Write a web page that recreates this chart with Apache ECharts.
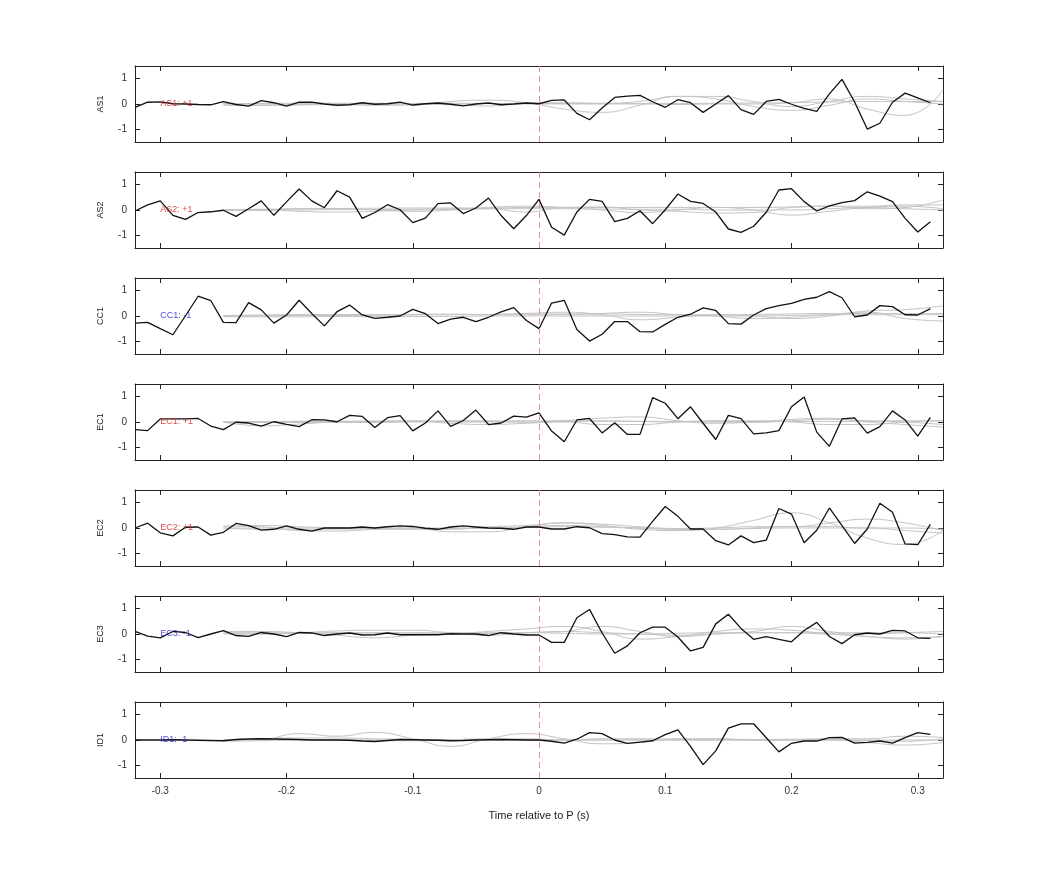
<!DOCTYPE html>
<html><head><meta charset="utf-8">
<script src="https://cdn.jsdelivr.net/npm/echarts@6/dist/echarts.min.js"></script>
<style>html,body{margin:0;padding:0;background:#fff}#c{width:1042px;height:875px}</style>
</head><body><div id="c"></div>
<script>
const channels = ['AS1','AS2','CC1','EC1','EC2','EC3','ID1'];
const labels = ['AS1: +1','AS2: +1','CC1: -1','EC1: +1','EC2: +1','EC3: -1','ID1: -1'];
const labelColors = ['#d42020','#d42020','#2020d0','#d42020','#d42020','#2020d0','#2020d0'];
const xTicks = [-0.3,-0.2,-0.1,0,0.1,0.2,0.3];
const yTicks = [-1,0,1];
// black trace sample times: -0.32 .. 0.31 step 0.01
const times = [-0.32,-0.31,-0.30,-0.29,-0.28,-0.27,-0.26,-0.25,-0.24,-0.23,-0.22,-0.21,-0.20,-0.19,-0.18,-0.17,-0.16,-0.15,-0.14,-0.13,-0.12,-0.11,-0.10,-0.09,-0.08,-0.07,-0.06,-0.05,-0.04,-0.03,-0.02,-0.01,0.00,0.01,0.02,0.03,0.04,0.05,0.06,0.07,0.08,0.09,0.10,0.11,0.12,0.13,0.14,0.15,0.16,0.17,0.18,0.19,0.20,0.21,0.22,0.23,0.24,0.25,0.26,0.27,0.28,0.29,0.30,0.31];
const AS1 = [-0.13,0.07,0.08,0.01,0,-0.02,-0.03,0.09,-0.02,-0.08,0.13,0.05,-0.08,0.07,0.07,0,-0.05,-0.03,0.05,-0.01,0.01,0.07,-0.04,0.01,0.04,-0.01,-0.07,0,0.04,-0.03,0,0.04,0.01,
 0.14,0.16,-0.37,-0.62,-0.16,0.26,0.31,0.34,0.09,-0.13,0.17,0.05,-0.33,0,0.33,-0.22,-0.41,0.1,0.18,-0.01,-0.17,-0.29,0.4,0.97,0.08,-0.99,-0.76,0.07,0.43,0.24,0.05];
const AS2 = [-0.04,0.2,0.36,-0.21,-0.37,-0.1,-0.07,-0.01,-0.25,0.05,0.36,-0.21,0.32,0.83,0.36,0.09,0.76,0.51,-0.33,-0.1,0.21,0.01,-0.5,-0.32,0.25,0.28,-0.14,0.08,0.47,-0.22,-0.74,-0.22,0.42,
 -0.68,-0.99,-0.08,0.42,0.34,-0.46,-0.33,-0.03,-0.54,0.01,0.63,0.34,0.26,-0.08,-0.75,-0.88,-0.64,-0.09,0.79,0.84,0.33,-0.04,0.16,0.29,0.37,0.72,0.55,0.33,-0.33,-0.87,-0.46];
const CC1 = [-0.28,-0.25,-0.5,-0.74,0.01,0.78,0.61,-0.25,-0.26,0.53,0.24,-0.28,0.04,0.62,0.1,-0.39,0.17,0.43,0.04,-0.09,-0.05,0,0.26,0.09,-0.3,-0.12,-0.05,-0.22,-0.05,0.16,0.33,-0.18,-0.5,
 0.51,0.62,-0.53,-0.99,-0.72,-0.22,-0.22,-0.62,-0.63,-0.33,-0.05,0.07,0.32,0.22,-0.3,-0.32,0.04,0.29,0.41,0.5,0.66,0.74,0.96,0.72,-0.03,0.04,0.41,0.37,0.05,0.04,0.29];
const EC1 = [-0.3,-0.34,0.12,0.12,0.12,0.14,-0.16,-0.3,-0.01,-0.04,-0.16,0.01,-0.09,-0.18,0.09,0.08,0.01,0.26,0.22,-0.22,0.17,0.25,-0.35,-0.04,0.44,-0.17,0.06,0.47,-0.1,-0.04,0.23,0.19,0.36,
 -0.36,-0.78,0.08,0.14,-0.43,-0.03,-0.49,-0.49,0.96,0.74,0.13,0.6,-0.05,-0.69,0.26,0.13,-0.47,-0.43,-0.34,0.6,0.99,-0.4,-0.96,0.12,0.16,-0.44,-0.18,0.44,0.08,-0.56,0.18];
const EC2 = [0,0.19,-0.19,-0.31,0.03,0.04,-0.28,-0.17,0.18,0.09,-0.08,-0.05,0.08,-0.05,-0.12,0,0,0,0.04,0,0.05,0.08,0.06,-0.01,-0.05,0.04,0.08,0.04,0,-0.01,-0.05,0.04,0.04,
 -0.04,-0.04,0.05,0.01,-0.22,-0.26,-0.35,-0.36,0.26,0.85,0.46,-0.04,-0.04,-0.5,-0.67,-0.31,-0.58,-0.48,0.77,0.55,-0.58,-0.09,0.79,0.09,-0.61,-0.04,0.98,0.62,-0.63,-0.66,0.14];
const EC3 = [0.1,-0.08,-0.15,0.1,0.06,-0.14,0,0.13,-0.06,-0.09,0.06,0,-0.1,0.06,0.04,-0.06,0,0.04,-0.04,-0.03,0.04,-0.03,-0.03,-0.03,-0.03,0.01,0,0,-0.06,0.05,0,-0.04,-0.04,
 -0.33,-0.33,0.64,0.97,0.04,-0.76,-0.47,0.05,0.27,0.27,-0.12,-0.67,-0.53,0.4,0.78,0.22,-0.21,-0.1,-0.21,-0.31,0.14,0.46,-0.1,-0.38,-0.03,0.04,0,0.14,0.12,-0.15,-0.17];
const ID1 = [0,0,0,0.01,0,-0.01,-0.02,-0.03,0.02,0.04,0.05,0.04,0.03,0.02,0,0,0,-0.01,-0.04,-0.06,-0.02,0.02,0.01,0,-0.01,-0.03,-0.02,0,0.01,0.02,0.01,0,0,
 -0.05,-0.12,0.03,0.29,0.25,0,-0.13,-0.08,-0.03,0.21,0.4,-0.25,-0.97,-0.43,0.47,0.64,0.64,0.09,-0.47,-0.13,-0.04,-0.04,0.09,0.1,-0.12,-0.09,-0.04,-0.12,0.09,0.29,0.22];
const traces = [AS1,AS2,CC1,EC1,EC2,EC3,ID1];
// gray reference traces (smooth), sampled coarsely
const grayT = [-0.25,-0.22,-0.19,-0.16,-0.13,-0.10,-0.07,-0.04,-0.01,0.02,0.05,0.08,0.11,0.14,0.17,0.20,0.23,0.26,0.29,0.32];
const grayAS1 = [
 [-0.05,-0.06,-0.04,-0.02,-0.05,-0.04,0.1,0.15,0.05,-0.2,-0.33,-0.05,0.3,0.2,-0.1,-0.25,-0.05,0.2,0.1,0.0],
 [0.0,0.02,0.0,0.01,0.03,0.0,-0.03,-0.08,0.05,0.05,0.03,0.1,0.3,0.3,0.1,-0.1,0.1,0.3,0.2,0.1],
 [-0.03,-0.03,-0.02,-0.02,-0.03,0.0,0.0,0.02,0.0,0.0,0.0,0.0,-0.02,0.0,0.0,0.05,0.2,-0.2,-0.45,0.55],
 [0.02,0.02,0.03,0.03,0.02,0.02,0.03,0.02,0.02,0.02,0.02,0.02,0.02,0.03,0.04,0.05,0.08,0.1,0.1,0.1]];
const grayAS2 = [
 [0.0,0.02,-0.05,-0.08,-0.05,0.0,0.02,0.05,-0.08,0.1,0.12,0.0,-0.05,-0.12,-0.1,0.1,0.15,0.05,0.1,0.4],
 [0.0,-0.02,0.05,0.05,0.0,-0.05,0.0,0.1,0.15,0.1,0.0,-0.1,0.0,0.1,0.0,-0.2,-0.05,0.1,0.15,0.05],
 [0.0,0.0,0.0,0.02,0.02,0.03,0.05,0.05,0.05,0.05,0.04,0.03,0.03,0.0,0.0,0.0,0.05,0.1,0.05,0.0],
 [0.02,0.03,0.05,0.06,0.07,0.08,0.08,0.08,0.1,0.1,0.1,0.1,0.1,0.1,0.1,0.12,0.15,0.15,0.2,0.2]];
const grayCC1 = [
 [0.0,0.0,0.02,0.04,0.05,0.06,0.07,0.06,0.1,0.15,0.05,-0.15,-0.05,0.05,0.0,-0.1,0.0,0.2,0.25,0.4],
 [0.0,0.0,0.02,0.02,0.03,0.05,0.05,0.05,0.05,0.05,0.1,0.15,0.05,0.0,-0.1,-0.05,0.05,0.15,-0.1,-0.2],
 [-0.03,-0.03,-0.03,-0.02,-0.03,-0.02,-0.02,0.0,0.0,0.0,0.0,0.0,0.0,0.0,0.0,0.02,0.05,0.05,0.05,0.05],
 [0.02,0.04,0.06,0.06,0.05,0.05,0.06,0.06,0.08,0.08,0.08,0.06,0.05,0.05,0.06,0.08,0.1,0.1,0.1,0.1]];
const grayEC1 = [
 [0.0,-0.15,-0.08,0.0,0.02,0.03,0.05,0.05,0.0,0.05,0.15,0.2,0.05,-0.05,0.0,0.1,0.15,0.0,-0.1,-0.2],
 [0.0,0.0,0.02,0.03,0.04,0.05,-0.05,-0.1,-0.05,0.0,-0.1,-0.1,0.0,0.05,0.05,0.0,-0.1,-0.1,0.0,0.05],
 [0.02,0.02,0.03,0.02,0.02,0.02,0.02,0.0,0.0,0.02,0.03,0.03,0.02,0.02,0.02,0.02,0.02,0.03,0.05,0.05],
 [-0.02,-0.02,-0.02,-0.02,-0.02,0.0,0.0,0.02,0.05,0.05,0.05,0.02,0.0,0.0,-0.02,0.05,0.1,0.05,0.0,-0.1]];
const grayEC2 = [
 [0.08,0.05,-0.1,-0.12,-0.05,0.0,-0.15,-0.15,0.05,0.2,0.1,-0.05,-0.1,0.0,0.3,0.6,0.2,-0.4,-0.65,-0.1],
 [0.05,0.1,0.05,0.0,-0.03,-0.05,-0.05,0.05,0.1,0.2,0.15,0.05,-0.02,0.0,0.05,0.05,0.2,0.35,0.2,-0.1],
 [0.0,-0.05,-0.05,-0.04,-0.04,-0.03,-0.02,-0.01,0.05,0.1,0.05,0.0,-0.05,-0.05,-0.02,0.0,0.0,0.0,-0.1,-0.2],
 [0.0,0.0,0.0,0.0,0.0,0.0,0.0,0.0,0.02,0.05,0.03,0.0,-0.05,-0.05,0.0,0.05,0.05,0.0,0.0,-0.05]];
const grayEC3 = [
 [0.1,0.1,0.05,-0.05,-0.15,-0.05,0.0,0.1,0.2,0.3,0.1,-0.2,-0.1,0.1,0.2,0.15,0.0,-0.1,-0.2,-0.1],
 [0.05,0.0,0.05,0.12,0.15,0.15,0.05,-0.05,0.05,0.1,0.3,0.1,-0.1,0.0,0.1,0.3,0.1,-0.1,-0.15,-0.1],
 [0.0,0.0,0.02,0.03,0.04,0.03,0.02,0.02,0.05,0.1,0.05,0.0,-0.05,0.0,0.05,0.05,0.0,0.0,0.05,0.1],
 [0.05,0.05,0.05,0.05,0.05,0.05,0.05,0.05,0.05,0.03,0.0,0.0,0.03,0.05,0.05,0.05,0.05,0.05,0.05,0.0]];
const grayID1 = [
 [0.0,0.02,0.25,0.15,0.3,0.05,-0.25,0.05,0.25,0.05,-0.15,-0.1,0.05,0.05,0.0,0.0,0.02,-0.1,-0.2,-0.1],
 [0.0,0.05,0.08,0.08,0.05,0.03,0.02,0.05,0.05,0.0,0.05,0.05,0.03,0.03,0.02,0.03,0.05,0.05,0.15,0.1],
 [-0.05,-0.03,0.0,0.0,-0.02,-0.03,0.0,0.0,0.0,0.0,0.0,0.0,0.0,0.0,0.0,0.0,0.0,-0.02,-0.05,0.05],
 [0.0,0.0,0.0,0.0,0.0,0.0,0.0,0.0,0.0,0.0,0.0,0.0,0.0,0.0,0.0,0.0,0.0,0.0,0.0,0.0]];
const grays = [grayAS1,grayAS2,grayCC1,grayEC1,grayEC2,grayEC3,grayID1];

const FONT = 'Liberation Sans';
const grids=[], xAxes=[], yAxes=[], series=[];
const n = channels.length;
for (let i=0;i<n;i++){
  grids.push({left:135,right:99,top:66+106*i,height:76});
  const last = i===n-1;
  const axLine = {show:true,onZero:false,lineStyle:{color:'#222',width:1}};
  const tick = {show:true,inside:true,length:5,lineStyle:{color:'#222'}};
  xAxes.push({gridIndex:i,type:'value',min:-0.32,max:0.32,interval:0.1,position:'bottom',
    axisLine:axLine,axisTick:Object.assign({customValues:xTicks},tick),
    axisLabel:{show:last,color:'#333',fontFamily:FONT,fontSize:10,customValues:xTicks,margin:8,formatter:v=>String(Math.round(v*10)/10)},
    splitLine:{show:false},
    name:last?'Time relative to P (s)':'',nameLocation:'middle',nameGap:32,nameTextStyle:{color:'#222',fontFamily:FONT,fontSize:11}});
  xAxes.push({gridIndex:i,type:'value',min:-0.32,max:0.32,position:'top',
    axisLine:axLine,axisTick:Object.assign({customValues:xTicks},tick),
    axisLabel:{show:false},splitLine:{show:false}});
  yAxes.push({gridIndex:i,type:'value',min:-1.5,max:1.5,position:'left',
    axisLine:axLine,axisTick:Object.assign({customValues:yTicks},tick),
    axisLabel:{color:'#333',fontFamily:FONT,fontSize:10,customValues:yTicks,margin:8},
    splitLine:{show:false},name:channels[i],nameLocation:'middle',nameGap:30,nameRotate:90,
    nameTextStyle:{color:'#222',fontFamily:FONT,fontSize:9}});
  yAxes.push({gridIndex:i,type:'value',min:-1.5,max:1.5,position:'right',
    axisLine:axLine,axisTick:Object.assign({customValues:yTicks},tick),
    axisLabel:{show:false},splitLine:{show:false}});
  grays[i].forEach((g,k)=>{
    series.push({type:'line',xAxisIndex:2*i,yAxisIndex:2*i,data:grayT.map((t,j)=>[t,g[j]]),
      smooth:0.5,symbol:'none',lineStyle:{color:'#c4c4c4',width:1},z:1,silent:true,
      markLine:k===0?{symbol:'none',silent:true,label:{show:false},lineStyle:{color:'#e89090',type:[6,4],width:1},data:[{xAxis:0}]}:undefined});
  });
  series.push({type:'line',xAxisIndex:2*i,yAxisIndex:2*i,data:times.map((t,j)=>[t,traces[i][j]]),
    symbol:'none',lineStyle:{color:'#111',width:1.3},z:3,silent:true});
  series.push({type:'scatter',xAxisIndex:2*i,yAxisIndex:2*i,data:[[-0.3,0]],symbolSize:0,z:4,silent:true,
    label:{show:true,formatter:labels[i],position:'right',distance:0,color:labelColors[i],fontFamily:FONT,fontSize:9}});
}
const chart = echarts.init(document.getElementById('c'),null,{renderer:'canvas'});
chart.setOption({backgroundColor:'#fff',animation:false,grid:grids,xAxis:xAxes,yAxis:yAxes,series:series});
</script></body></html>
